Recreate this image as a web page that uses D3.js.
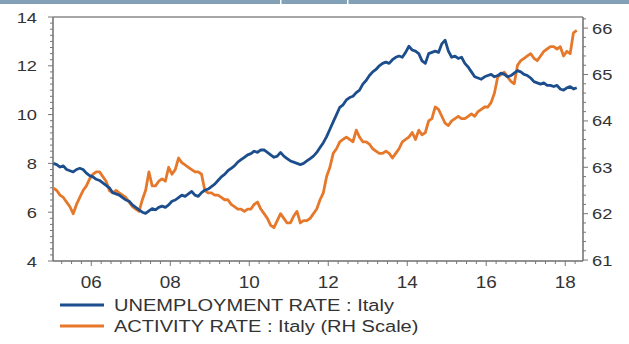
<!DOCTYPE html>
<html>
<head>
<meta charset="utf-8">
<script src="https://cdn.jsdelivr.net/npm/d3@7"></script>
<style>
  body { margin: 0; background: #fff; }
  svg { display: block; }
  text { font-family: "Liberation Sans", Arial, sans-serif; fill: #333; }
</style>
</head>
<body>
<svg id="chart" width="629" height="344"></svg>
<script>
// Monthly series, January 2005 to April 2018
const startYear = 2005;

const unemployment = [
  8.0, 7.95, 7.85, 7.9, 7.75, 7.7, 7.65, 7.75, 7.8, 7.75, 7.6, 7.5,
  7.45, 7.35, 7.3, 7.2, 7.1, 7.0, 6.8, 6.75, 6.7, 6.6, 6.5, 6.45,
  6.3, 6.2, 6.1, 6.0, 5.95, 6.05, 6.15, 6.1, 6.2, 6.25, 6.2, 6.3,
  6.45, 6.5, 6.6, 6.7, 6.65, 6.75, 6.85, 6.7, 6.65, 6.8, 6.9, 6.95,
  7.05, 7.15, 7.3, 7.45, 7.55, 7.7, 7.8, 7.9, 8.05, 8.15, 8.25, 8.35,
  8.4, 8.5, 8.45, 8.55, 8.55, 8.45, 8.35, 8.25, 8.3, 8.45, 8.3, 8.2,
  8.1, 8.05, 8.0, 7.95, 8.0, 8.1, 8.2, 8.3, 8.45, 8.65, 8.85, 9.1,
  9.4, 9.7, 10.0, 10.3, 10.4, 10.6, 10.7, 10.75, 10.9, 11.0, 11.25, 11.4,
  11.6, 11.75, 11.85, 12.0, 12.1, 12.15, 12.1, 12.25, 12.35, 12.4, 12.35, 12.55,
  12.8, 12.65, 12.6, 12.5, 12.2, 12.1, 12.5, 12.55, 12.6, 12.55, 12.9, 13.05,
  12.6, 12.35, 12.4, 12.3, 12.35, 12.1, 11.95, 11.75, 11.55, 11.5, 11.45, 11.55,
  11.6, 11.65, 11.55, 11.6, 11.7, 11.65, 11.55, 11.6, 11.7, 11.8, 11.75, 11.65,
  11.6, 11.5, 11.35, 11.3, 11.25, 11.3, 11.2, 11.2, 11.15, 11.2, 11.05, 11.0,
  11.1, 11.15, 11.05, 11.1
];

const activityRate = [
  62.55, 62.5, 62.4, 62.35, 62.25, 62.15, 62.0, 62.2, 62.35, 62.5, 62.6, 62.75,
  62.85, 62.9, 62.9, 62.8, 62.7, 62.5, 62.45, 62.5, 62.45, 62.4, 62.35, 62.25,
  62.15, 62.1, 62.05, 62.3, 62.5, 62.9, 62.6, 62.6, 62.7, 62.75, 62.7, 63.0,
  62.85, 62.95, 63.2, 63.1, 63.05, 63.0, 62.95, 62.9, 62.9, 62.85, 62.5, 62.45,
  62.45, 62.4, 62.4, 62.35, 62.3, 62.3, 62.2, 62.15, 62.1, 62.1, 62.05, 62.1,
  62.1, 62.2, 62.25, 62.1, 62.0, 61.9, 61.75, 61.7, 61.85, 62.0, 61.9, 61.8,
  61.8, 61.95, 62.05, 61.8, 61.85, 61.85, 61.9, 62.0, 62.1, 62.3, 62.45, 62.8,
  63.0, 63.3, 63.4, 63.55, 63.6, 63.65, 63.6, 63.55, 63.8, 63.65, 63.55, 63.55,
  63.5, 63.4, 63.35, 63.3, 63.3, 63.35, 63.3, 63.2, 63.3, 63.4, 63.55, 63.6,
  63.65, 63.75, 63.6, 63.8, 63.7, 63.75, 64.0, 64.05, 64.3, 64.25, 64.1, 63.95,
  63.9, 64.0, 64.05, 64.1, 64.05, 64.05, 64.1, 64.15, 64.1, 64.2, 64.25, 64.3,
  64.3, 64.4, 64.6, 64.95, 65.0, 65.05, 64.95, 64.85, 64.8, 65.2, 65.3, 65.35,
  65.4, 65.45, 65.35, 65.3, 65.4, 65.5, 65.55, 65.6, 65.6, 65.55, 65.6, 65.4,
  65.5, 65.45, 65.9, 65.95
];

const xTickYears = [2006, 2008, 2010, 2012, 2014, 2016, 2018];
const leftTicks = [4, 6, 8, 10, 12, 14];
const rightTicks = [61, 62, 63, 64, 65, 66];
const seriesNames = ["UNEMPLOYMENT RATE : Italy", "ACTIVITY RATE : Italy (RH Scale)"];
const seriesColors = ["#1c4d8c", "#e5782a"];

const svg = d3.select("#chart");
const plot = { left: 53, right: 583, top: 17, bottom: 261 };
const stretch = 1.18; // text is drawn slightly wide

// Decorative strip along the top edge
svg.append("rect").attr("x", 0).attr("y", 0).attr("width", 629).attr("height", 4).attr("fill", "#82a1b7");
[280, 347].forEach(gx => svg.append("rect").attr("x", gx).attr("y", 0).attr("width", 1.5).attr("height", 4).attr("fill", "#fff"));

// Time in fractional years, each month at its midpoint
const monthTime = i => startYear + (i + 0.5) / 12;

const x = d3.scaleLinear().domain([2005.03, 2018.45]).range([plot.left, plot.right]);
const yL = d3.scaleLinear().domain([4, 14]).range([plot.bottom, plot.top]);
const yR = d3.scaleLinear().domain([60.98, 66.24]).range([plot.bottom, plot.top]);

function wideText(g, px, py, str, anchor, size) {
  return g.append("text")
    .attr("transform", `translate(${px},${py}) scale(${stretch},1)`)
    .attr("text-anchor", anchor)
    .style("font-size", size + "px")
    .text(str);
}

// Frame
svg.append("line").attr("x1", plot.left).attr("x2", plot.right).attr("y1", plot.top).attr("y2", plot.top)
  .attr("stroke", "#8a8a8a").attr("stroke-width", 1.5);

// Left axis
const axL = svg.append("g");
axL.append("line").attr("x1", plot.left).attr("x2", plot.left).attr("y1", plot.top).attr("y2", plot.bottom)
  .attr("stroke", "#6e6e6e").attr("stroke-width", 1.5);
d3.range(4, 14.001, 0.25).forEach(v => {
  const major = Math.abs(v - Math.round(v / 2) * 2) < 1e-6;
  axL.append("line").attr("x1", plot.left).attr("x2", plot.left - (major ? 5 : 3))
    .attr("y1", yL(v)).attr("y2", yL(v)).attr("stroke", "#777").attr("stroke-width", 1);
});
leftTicks.forEach(v => wideText(axL, 37, yL(v) + 5.5, String(v), "end", 15.5));

// Right axis
const axR = svg.append("g");
axR.append("line").attr("x1", plot.right).attr("x2", plot.right).attr("y1", plot.top).attr("y2", plot.bottom)
  .attr("stroke", "#6e6e6e").attr("stroke-width", 1.5);
d3.range(61, 66.201, 0.2).forEach(v => {
  const major = Math.abs(v - Math.round(v)) < 1e-6;
  axR.append("line").attr("x1", plot.right).attr("x2", plot.right + (major ? 5 : 3))
    .attr("y1", yR(v)).attr("y2", yR(v)).attr("stroke", "#777").attr("stroke-width", 1);
});
rightTicks.forEach(v => wideText(axR, 592, yR(v) + 5.5, String(v), "start", 15.5));

// Bottom axis
const axB = svg.append("g");
axB.append("line").attr("x1", plot.left).attr("x2", plot.right).attr("y1", plot.bottom).attr("y2", plot.bottom)
  .attr("stroke", "#6e6e6e").attr("stroke-width", 1.5);
d3.range(2005.25, 2018.45, 0.25).forEach(t => {
  const yearTick = Math.abs(t - Math.round(t)) < 1e-6;
  const labelled = yearTick && Math.round(t) % 2 === 0;
  axB.append("line").attr("x1", x(t)).attr("x2", x(t))
    .attr("y1", plot.bottom).attr("y2", plot.bottom + (labelled ? 5 : 3))
    .attr("stroke", "#777").attr("stroke-width", 1);
});
xTickYears.forEach(yr => wideText(axB, x(yr), 288, String(yr % 100).padStart(2, "0"), "middle", 16));

// Series lines
const lineL = d3.line().x((d, i) => x(monthTime(i))).y(d => yL(d)).curve(d3.curveLinear);
const lineR = d3.line().x((d, i) => x(monthTime(i))).y(d => yR(d)).curve(d3.curveLinear);

svg.append("path").datum(activityRate).attr("d", lineR)
  .attr("fill", "none").attr("stroke", seriesColors[1]).attr("stroke-width", 2.8)
  .attr("stroke-linejoin", "round");
svg.append("path").datum(unemployment).attr("d", lineL)
  .attr("fill", "none").attr("stroke", seriesColors[0]).attr("stroke-width", 2.8)
  .attr("stroke-linejoin", "round");

// Legend
const legend = svg.append("g");
seriesNames.forEach((name, i) => {
  const ly = 305 + i * 21;
  legend.append("line").attr("x1", 60).attr("x2", 104).attr("y1", ly).attr("y2", ly)
    .attr("stroke", seriesColors[i]).attr("stroke-width", 3);
  wideText(legend, 114, ly + 6, name, "start", 17);
});
</script>
</body>
</html>
